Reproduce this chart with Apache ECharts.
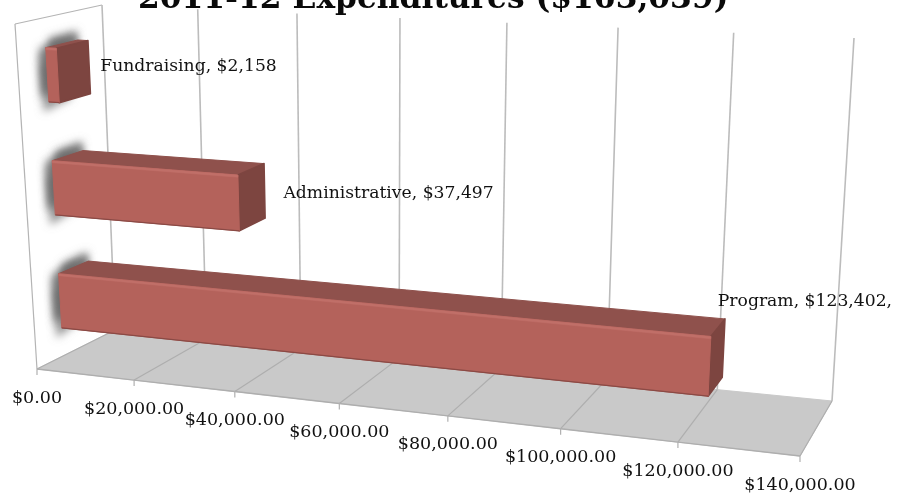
<!DOCTYPE html>
<html>
<head>
<meta charset="utf-8">
<style>html,body{margin:0;padding:0;background:#fff}#c{width:897px;height:496px}</style>
<script src="https://cdn.jsdelivr.net/npm/echarts@6/dist/echarts.min.js"></script>
</head>
<body>
<div id="c"></div>
<script>
const chartTitle = '2011-12 Expenditures ($163,039)';
const categories = ['Program', 'Administrative', 'Fundraising'];
const amounts = [123402, 37497, 2158];
const pointLabels = ['Program, $123,402,', 'Administrative, $37,497', 'Fundraising, $2,158'];
const tickValues = [0, 20000, 40000, 60000, 80000, 100000, 120000, 140000];
const tickLabels = ['$0.00', '$20,000.00', '$40,000.00', '$60,000.00', '$80,000.00', '$100,000.00', '$120,000.00', '$140,000.00'];

// --- camera: where the eight box rails land on the page ---
const W = 0.875;
const FB = [[37, 369], [800, 456]], BB = [[115, 330], [832, 401]];
const FT = [[15, 24], [823, 71]], BT = [[102, 5], [854, 38]];
const DEPTH = [0.3, 0.67];
const BAR_SKEW = [3, -7];
const FONT = '"DejaVu Serif", serif';
const LABEL_SHIFT = [[-9, -47], [20, 3], [14, -1]];
// glow layers: offset x, offset y, blur
const GLOW = [[-1, -15, 9], [-1, -11, 7], [-9, 13, 8], [-11, 0, 8], [-10, -6, 8]];

const mix = (a, b, t) => [a[0] + (b[0] - a[0]) * t, a[1] + (b[1] - a[1]) * t];
function project(u, d, h) {
  const t = u * W / ((1 - u) + u * W);
  const front = mix(mix(FB[0], FB[1], t), mix(FT[0], FT[1], t), h);
  const back = mix(mix(BB[0], BB[1], t), mix(BT[0], BT[1], t), h);
  return mix(front, back, d);
}
// flat grid pixel from the ECharts scales -> plot fractions
function frac(params, p) {
  const c = params.coordSys;
  return [(p[0] - c.x) / c.width, (c.y + c.height - p[1]) / c.height];
}
const poly = (points, fill, extra) => ({
  type: 'polygon', shape: { points },
  style: Object.assign({ fill, stroke: fill, lineWidth: 1, lineJoin: 'round' }, extra || {})
});
const seg = (a, b, stroke, lineWidth) => ({
  type: 'line', shape: { x1: a[0], y1: a[1], x2: b[0], y2: b[1] },
  style: { stroke, lineWidth }
});

function renderFloor(params, api) {
  const u0 = frac(params, api.coord([api.value(0), 0]))[0];
  const u1 = frac(params, api.coord([api.value(1), 0]))[0];
  return {
    type: 'group', children: [
      poly([project(u0, 0, 0), project(u1, 0, 0), project(u1, 1, 0), project(u0, 1, 0)], '#c9c9c9'),
      seg(project(u0, 0, 1), project(u0, 1, 1), '#b4b4b4', 1.2),
      seg(project(u0, 0, 1), project(u0, 0, 0), '#b4b4b4', 1.2)
    ]
  };
}
function renderTick(params, api) {
  const v = api.value(0);
  const u = frac(params, api.coord([v, 0]))[0];
  const fb = project(u, 0, 0), bb = project(u, 1, 0), bt = project(u, 1, 1);
  const next = tickValues[params.dataIndex + 1];
  const kids = [
    seg(fb, bb, '#aeaeae', 1.2),
    seg(bb, bt, '#bcbcbc', 1.6),
    seg(fb, [fb[0], fb[1] + 6], '#b0b0b0', 1.2)
  ];
  if (next !== undefined) {
    const u2 = frac(params, api.coord([next, 0]))[0];
    kids.push(seg(fb, project(u2, 0, 0), '#aeaeae', 1.4));
  }
  kids.push({
    type: 'text',
    style: {
      text: tickLabels[params.dataIndex], x: fb[0], y: fb[1] + 29,
      font: '17.5px ' + FONT, fill: '#111', align: 'center', verticalAlign: 'middle'
    }
  });
  return { type: 'group', children: kids };
}
function renderBar(params, api) {
  const i = params.dataIndex;
  const flat = api.coord([api.value(0), i]);
  const base = api.coord([0, i]);
  const half = api.size([0, 1])[1] * 0.24;
  const [u1, hm] = frac(params, flat);
  const u0 = frac(params, base)[0];
  const hh = half / params.coordSys.height;
  const h0 = hm - hh, h1 = hm + hh;
  const d0 = DEPTH[0], d1 = DEPTH[1];
  const P = (u, d, h) => {
    const q = project(u, d, h);
    return [q[0] + BAR_SKEW[0] + BAR_SKEW[1] * u, q[1]];
  };
  const fl = P(u0, d0, h0), flT = P(u0, d0, h1), fr = P(u1, d0, h0), frT = P(u1, d0, h1);
  const bl = P(u0, d1, h0), blT = P(u0, d1, h1), br = P(u1, d1, h0), brT = P(u1, d1, h1);
  const kids = [];
  // soft grey glow: the source shape hides behind the bar, only its blurred shadow shows
  const inset = (p, dx, dy) => [p[0] + dx, p[1] + dy];
  GLOW.forEach(g => kids.push(poly([
    inset(fl, 4, -3), inset(flT, 4, 5), inset(blT, 0, 5), inset(bl, 0, -8)
  ], '#999', {
    lineWidth: 0, shadowBlur: g[2], shadowColor: 'rgba(105,105,105,0.7)', shadowOffsetX: g[0], shadowOffsetY: g[1]
  })));
  kids.push(
    poly([flT, frT, brT, blT], '#8f514c'),
    poly([fr, frT, brT, br], '#7d4540', { lineWidth: 1.6 }),
    poly([fl, flT, frT, fr], '#b4625b'),
    poly([flT, frT, P(u1, d0, h1 - 0.006), P(u0, d0, h1 - 0.006)], '#c06f68', { lineWidth: 0.5 }),
    seg(fl, fr, '#8a4a45', 1.2)
  );
  const mid = project(u1, d1, hm);
  const shift = LABEL_SHIFT[i];
  kids.push({
    type: 'text',
    style: {
      text: pointLabels[i], x: mid[0] + shift[0], y: mid[1] + shift[1],
      font: '17.2px ' + FONT, fill: '#111', align: 'left', verticalAlign: 'middle'
    }
  });
  return { type: 'group', children: kids };
}

const chart = echarts.init(document.getElementById('c'), null, { renderer: 'canvas' });
chart.setOption({
  animation: false,
  backgroundColor: '#fff',
  title: {
    text: chartTitle, left: 133, top: -21,
    textStyle: { fontFamily: 'DejaVu Serif', fontWeight: 'bold', fontSize: 31.3, color: '#0a0a0a' }
  },
  grid: { left: 40, right: 40, top: 40, bottom: 40 },
  xAxis: { type: 'value', min: 0, max: 140000, interval: 20000, show: false },
  yAxis: { type: 'category', data: categories, show: false },
  series: [
    { type: 'custom', name: 'floor', z: 1, clip: false, silent: true, data: [[tickValues[0], tickValues[tickValues.length - 1]]], encode: { x: [0, 1] }, renderItem: renderFloor },
    { type: 'custom', name: 'axis', z: 2, clip: false, silent: true, data: tickValues.map(v => [v]), encode: { x: 0 }, renderItem: renderTick },
    { type: 'custom', name: 'Expenditures', z: 3, clip: false, data: amounts.map(v => [v]), encode: { x: 0 }, renderItem: renderBar }
  ]
});
</script>
</body>
</html>
